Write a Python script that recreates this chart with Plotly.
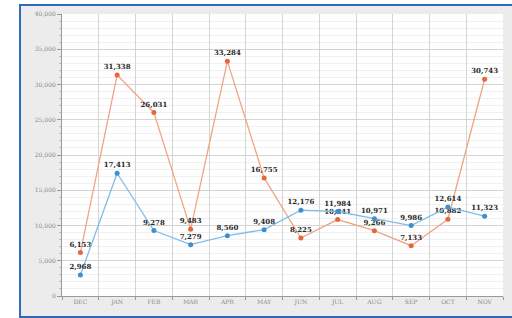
import plotly.graph_objects as go

months = ["DEC", "JAN", "FEB", "MAR", "APR", "MAY", "JUN", "JUL", "AUG", "SEP", "OCT", "NOV"]
orange_values = [6153, 31338, 26031, 9483, 33284, 16755, 8225, 10841, 9266, 7133, 10882, 30743]
blue_values = [2968, 17413, 9278, 7279, 8560, 9408, 12176, 11984, 10971, 9986, 12614, 11323]
y_ticks = [0, 5000, 10000, 15000, 20000, 25000, 30000, 35000, 40000]
y_tick_labels = ["0", "5,000", "10,000", "15,000", "20,000", "25,000", "30,000", "35,000", "40,000"]

label_font = dict(family="DejaVu Serif", size=7, color="#2a2a2a", weight="bold")

fig = go.Figure()
fig.add_trace(go.Scatter(
    x=months, y=orange_values, mode="lines+markers+text",
    text=[f"{v:,}" for v in orange_values], textposition="top center",
    textfont=label_font,
    line=dict(color="#f2a385", width=1.3),
    marker=dict(color="#e8663c", size=5),
    cliponaxis=False, showlegend=False,
))
fig.add_trace(go.Scatter(
    x=months, y=blue_values, mode="lines+markers+text",
    text=[f"{v:,}" for v in blue_values], textposition="top center",
    textfont=label_font,
    line=dict(color="#7fbde8", width=1.3),
    marker=dict(color="#3d8fd1", size=5),
    cliponaxis=False, showlegend=False,
))

L, R, T, B = 62, 9, 14, 22
W, H = 512, 318
pw, ph = W - L - R, H - T - B

def px(x):
    return (x - L) / pw

def py(y):
    return (H - B - y) / ph

# outer frame
fig.add_shape(type="rect", xref="paper", yref="paper",
              x0=px(20), x1=px(530), y0=py(317), y1=py(5),
              fillcolor="#ececec", line=dict(color="#2e6cb8", width=2),
              layer="below")
# white plot area
fig.add_shape(type="rect", xref="paper", yref="paper",
              x0=0, x1=1, y0=0, y1=1,
              fillcolor="white", line=dict(width=0),
              layer="below")

fig.update_layout(
    width=W, height=H,
    margin=dict(l=L, r=R, t=T, b=B),
    paper_bgcolor="white",
    plot_bgcolor="rgba(0,0,0,0)",
    font=dict(family="DejaVu Serif", size=6, color="#888888"),
    xaxis=dict(
        type="category", tickson="boundaries",
        showgrid=True, gridcolor="#d4d4d4", gridwidth=1,
        showline=True, linecolor="#999999", linewidth=1,
        ticks="outside", ticklen=3, tickcolor="#999999",
        tickfont=dict(size=6, color="#888888"),
        range=[-0.5, 11.5], fixedrange=True,
    ),
    yaxis=dict(
        range=[0, 40000], tickvals=y_ticks, ticktext=y_tick_labels,
        showgrid=True, gridcolor="#d4d4d4", gridwidth=1,
        showline=True, linecolor="#999999", linewidth=1,
        ticks="outside", ticklen=4, tickcolor="#999999",
        tickfont=dict(size=6, color="#888888"),
        zeroline=False,
        minor=dict(dtick=1000, showgrid=True, gridcolor="#f1f1f1",
                   ticks="outside", ticklen=2, tickcolor="#bbbbbb"),
    ),
)

fig.write_html("out.html", config={"displayModeBar": False},
               post_script="document.body.style.margin='0';")
